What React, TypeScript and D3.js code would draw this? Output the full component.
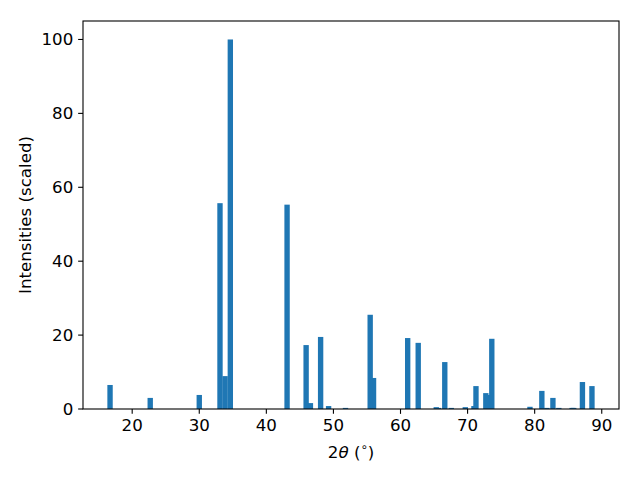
import React from "react";
import * as d3 from "d3";

const positions = [16.70, 22.69, 30.00, 33.09, 33.85, 34.63, 43.09, 45.93, 46.57, 48.09, 49.28, 51.80, 55.48, 55.98, 61.07, 62.64, 65.33, 65.67, 66.60, 67.57, 69.66, 70.95, 71.25, 72.72, 73.12, 73.61, 79.30, 81.07, 81.82, 82.72, 83.60, 85.58, 85.82, 87.12, 88.54];
const intensities = [6.5, 3.0, 3.8, 55.7, 8.9, 100, 55.3, 17.3, 1.6, 19.5, 0.8, 0.3, 25.5, 8.4, 19.2, 17.9, 0.5, 0.3, 12.7, 0.3, 0.5, 0.8, 6.2, 4.3, 3.8, 19.0, 0.6, 4.9, 0.3, 3.0, 0.3, 0.3, 0.3, 7.3, 6.2];
const xTicks = [20, 30, 40, 50, 60, 70, 80, 90];
const yTicks = [0, 20, 40, 60, 80, 100];
const barWidth = 0.8;

const W = 640, H = 480;
const L = 83, R = 619, T = 21, B = 409;
const FS = 16.67;
const FONT = "DejaVu Sans, sans-serif";
const COLOR = "#1f77b4";

export default function App() {
  const xmin = d3.min(positions)! - barWidth / 2;
  const xmax = d3.max(positions)! + barWidth / 2;
  const pad = (xmax - xmin) * 0.05;
  const x = d3.scaleLinear().domain([xmin - pad, xmax + pad]).range([L, R]);
  const y = d3.scaleLinear().domain([0, 105]).range([B, T]);
  const bars = positions.map((p, i) => ({ p, v: intensities[i] }))
    .sort((a, b) => a.v - b.v);
  const tl = 4.86;
  return (
    <svg width={W} height={H} style={{ position: "absolute", left: 0, top: 0, background: "#fff" }}>
      <rect x={0} y={0} width={W} height={H} fill="#fff" />
      {bars.map((d, i) => (
        <rect key={i} x={x(d.p - barWidth / 2)} width={x(d.p + barWidth / 2) - x(d.p - barWidth / 2)}
          y={y(d.v)} height={y(0) - y(d.v)} fill={COLOR} />
      ))}
      <rect x={L} y={T} width={R - L} height={B - T} fill="none" stroke="#000" strokeWidth={1.1} />
      {xTicks.map(t => (
        <g key={t}>
          <line x1={x(t)} x2={x(t)} y1={B} y2={B + tl} stroke="#000" strokeWidth={1.1} />
          <text x={x(t)} y={B + tl + 4.86 + 12.2} textAnchor="middle" fontFamily={FONT} fontSize={FS}>{t}</text>
        </g>
      ))}
      {yTicks.map(t => (
        <g key={t}>
          <line x1={L - tl} x2={L} y1={y(t)} y2={y(t)} stroke="#000" strokeWidth={1.1} />
          <text x={L - tl - 4.86} y={y(t) + 6} textAnchor="end" fontFamily={FONT} fontSize={FS}>{t}</text>
        </g>
      ))}
      <text x={(L + R) / 2} y={458} textAnchor="middle" fontFamily={FONT} fontSize={FS}>
        2<tspan fontStyle="italic">θ</tspan> (<tspan fontSize={11.7} dy={-7}>∘</tspan><tspan dy={7}>)</tspan>
      </text>
      <text transform={`translate(31,${(T + B) / 2}) rotate(-90)`} textAnchor="middle" fontFamily={FONT} fontSize={FS}>
        Intensities (scaled)
      </text>
    </svg>
  );
}
